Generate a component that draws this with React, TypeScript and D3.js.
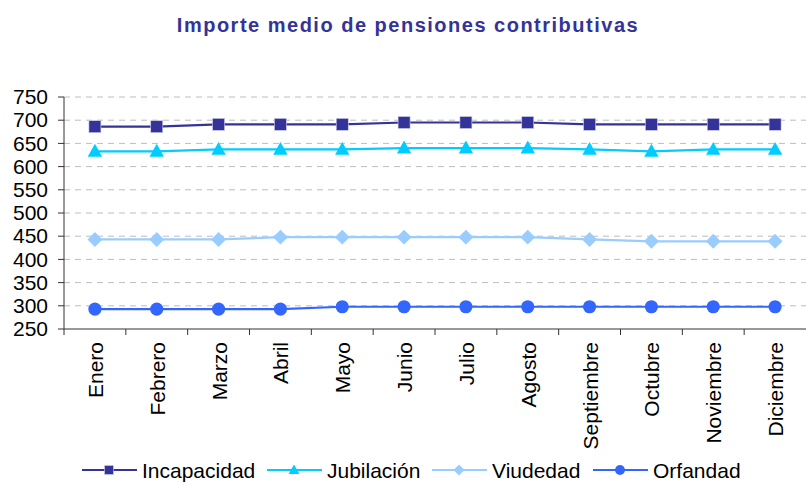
import React from "react";
import * as d3 from "d3";

const months = [
  "Enero", "Febrero", "Marzo", "Abril", "Mayo", "Junio",
  "Julio", "Agosto", "Septiembre", "Octubre", "Noviembre", "Diciembre",
];
const incapacidad = [686, 686, 691, 691, 691, 695, 695, 695, 691, 691, 691, 691];
const jubilacion = [633, 633, 637, 637, 637, 640, 640, 640, 637, 633, 637, 637];
const viudedad = [443, 443, 443, 448, 448, 448, 448, 448, 443, 439, 439, 439];
const orfandad = [293, 293, 293, 293, 298, 298, 298, 298, 298, 298, 298, 298];
const yTicks = [250, 300, 350, 400, 450, 500, 550, 600, 650, 700, 750];

type Shape = "square" | "triangle" | "diamond" | "circle";
const series: { name: string; values: number[]; color: string; shape: Shape }[] = [
  { name: "Incapacidad", values: incapacidad, color: "#333399", shape: "square" },
  { name: "Jubilación", values: jubilacion, color: "#00CCFF", shape: "triangle" },
  { name: "Viudedad", values: viudedad, color: "#99CCFF", shape: "diamond" },
  { name: "Orfandad", values: orfandad, color: "#3366FF", shape: "circle" },
];

const W = 810;
const H = 482;
const left = 64;
const right = 806;
const top = 97;
const bottom = 329;
const font = "'Liberation Sans', Arial, sans-serif";

function Marker({ shape, x, y, color, s }: { shape: Shape; x: number; y: number; color: string; s: number }) {
  if (shape === "square") {
    return <rect x={x - s / 2} y={y - s / 2} width={s} height={s} fill={color} stroke="#d0d0e8" strokeWidth={0.6} />;
  }
  if (shape === "triangle") {
    const h = s * 1.0;
    return <path d={`M${x},${y - h * 0.62} L${x + s * 0.6},${y + h * 0.45} L${x - s * 0.6},${y + h * 0.45} Z`} fill={color} />;
  }
  if (shape === "diamond") {
    const r = s * 0.62;
    return <path d={`M${x},${y - r} L${x + r},${y} L${x},${y + r} L${x - r},${y} Z`} fill={color} />;
  }
  return <circle cx={x} cy={y} r={s * 0.55} fill={color} />;
}

export default function App() {
  const x = d3.scaleBand<string>().domain(months).range([left, right]);
  const y = d3.scaleLinear().domain([250, 750]).range([bottom, top]);
  const line = d3
    .line<number>()
    .x((_, i) => (x(months[i]) as number) + x.bandwidth() / 2)
    .y((v) => y(v));

  // legend swatch start positions
  const legendX = [82, 267, 432, 593];

  return (
    <svg width={W} height={H} style={{ position: "absolute", left: 0, top: 0, background: "#fff" }}>
      <text
        x={408}
        y={32}
        textAnchor="middle"
        fontFamily={font}
        fontWeight="bold"
        fontSize={20}
        letterSpacing={1.5}
        fill="#333399"
      >
        Importe medio de pensiones contributivas
      </text>

      {yTicks.map((t) => (
        <g key={t}>
          {t !== 250 && (
            <line x1={left} x2={right} y1={y(t)} y2={y(t)} stroke="#bdbdbd" strokeWidth={1} strokeDasharray="6,5" />
          )}
          <line x1={left - 6} x2={left} y1={y(t)} y2={y(t)} stroke="#333" strokeWidth={1} />
          <text x={48} y={y(t)} dy="0.34em" textAnchor="end" fontFamily={font} fontSize={21} fill="#000">
            {t}
          </text>
        </g>
      ))}

      <line x1={left} x2={left} y1={top} y2={bottom} stroke="#333" strokeWidth={1} />
      <line x1={left} x2={right} y1={bottom} y2={bottom} stroke="#333" strokeWidth={1} />
      {months.map((m) => (
        <line key={"t" + m} x1={x(m) as number} x2={x(m) as number} y1={bottom} y2={bottom + 6} stroke="#333" />
      ))}
      {months.map((m) => {
        const cx = (x(m) as number) + x.bandwidth() / 2;
        return (
          <text
            key={"l" + m}
            transform={`translate(${cx + 8},${bottom + 13}) rotate(-90)`}
            textAnchor="end"
            fontFamily={font}
            fontSize={21}
            fill="#000"
          >
            {m}
          </text>
        );
      })}

      {series.map((s) => (
        <g key={s.name}>
          <path d={line(s.values) as string} fill="none" stroke={s.color} strokeWidth={2.2} />
          {s.values.map((v, i) => (
            <Marker
              key={i}
              shape={s.shape}
              x={(x(months[i]) as number) + x.bandwidth() / 2}
              y={y(v)}
              color={s.color}
              s={12}
            />
          ))}
        </g>
      ))}

      {series.map((s, i) => {
        const lx = legendX[i];
        const ly = 470;
        return (
          <g key={"lg" + s.name}>
            <line x1={lx} x2={lx + 55} y1={ly} y2={ly} stroke={s.color} strokeWidth={2} />
            <Marker shape={s.shape} x={lx + 27} y={ly} color={s.color} s={9} />
            <text x={lx + 60} y={478} fontFamily={font} fontSize={21} fill="#000">
              {s.name}
            </text>
          </g>
        );
      })}
    </svg>
  );
}
